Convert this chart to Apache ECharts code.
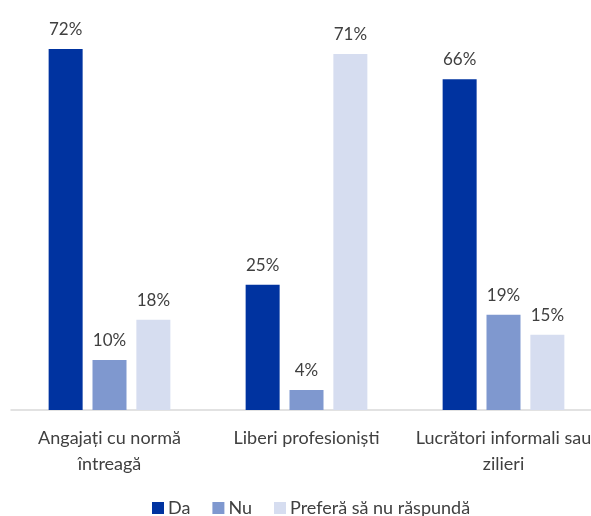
<!DOCTYPE html>
<html>
<head>
<meta charset="utf-8">
<script src="https://cdn.jsdelivr.net/npm/echarts@6/dist/echarts.min.js"></script>
<style>html,body{margin:0;padding:0;background:#fff;}#c{width:591px;height:516px;}</style>
</head>
<body>
<div id="c"></div>
<script>
var categories = ["Angajați cu normă\nîntreagă", "Liberi profesioniști", "Lucrători informali sau\nzilieri"];
var seriesNames = ["Da", "Nu", "Preferă să nu răspundă"];
var daValues = [72, 25, 66];
var nuValues = [10, 4, 19];
var prefValues = [18, 71, 15];
var colors = ["#0033A0", "#7F98CF", "#D6DDF0"];

var chart = echarts.init(document.getElementById('c'), null, {renderer: 'canvas'});
var font = 'Lato, "Noto Sans", sans-serif';
function mk(name, data, color) {
  return {
    name: name, type: 'bar', data: data, barWidth: 34, barGap: '29%',
    itemStyle: {color: color},
    label: {show: true, position: 'top', distance: 11, formatter: '{c}%', color: '#404040', fontSize: 17, fontFamily: font}
  };
}
chart.setOption({
  animation: false,
  textStyle: {fontFamily: font},
  grid: {left: 11, width: 591, top: 9, height: 401, containLabel: false, outerBoundsMode: 'none'},
  xAxis: {
    type: 'category', data: categories,
    axisLine: {lineStyle: {color: '#D9D9D9', width: 1.5}},
    axisTick: {show: false},
    axisLabel: {color: '#404040', fontSize: 18, fontFamily: font, margin: 15, lineHeight: 26, interval: 0, hideOverlap: false}
  },
  yAxis: {type: 'value', min: 0, max: 80, show: false, splitLine: {show: false}},
  legend: {
    left: 147, top: 494, itemWidth: 12, itemHeight: 12, itemGap: 22,
    icon: 'rect',
    textStyle: {color: '#404040', fontSize: 18, fontFamily: font, padding: [0, 0, 0, -1]},
    data: seriesNames
  },
  series: [
    mk(seriesNames[0], daValues, colors[0]),
    mk(seriesNames[1], nuValues, colors[1]),
    mk(seriesNames[2], prefValues, colors[2])
  ]
});
</script>
</body>
</html>
